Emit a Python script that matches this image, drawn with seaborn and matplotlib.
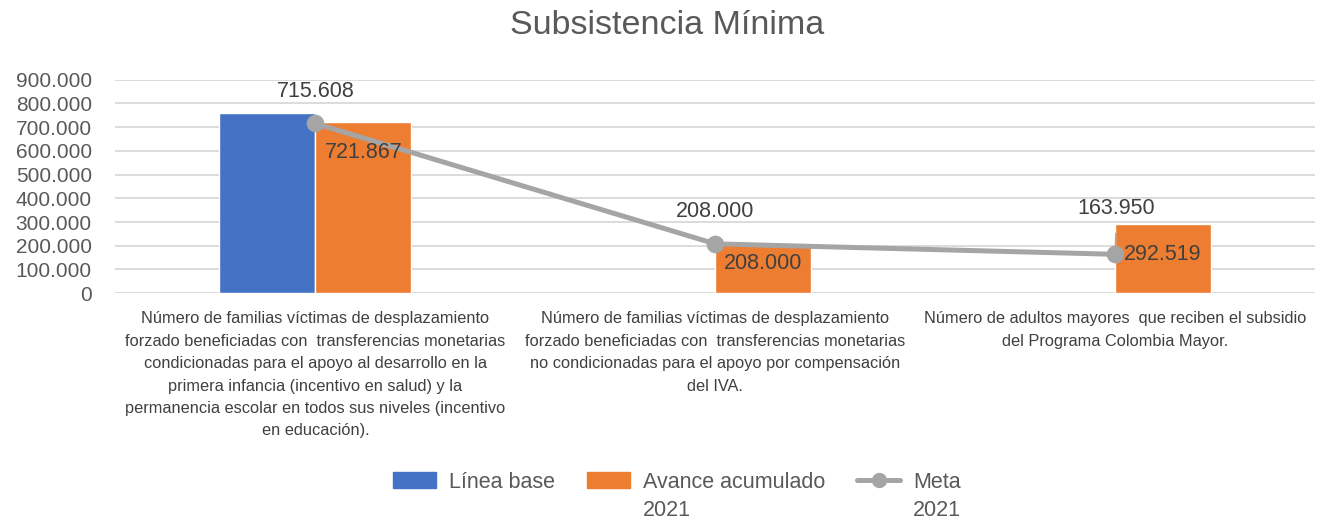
import pandas as pd
import matplotlib
matplotlib.use("Agg")
import matplotlib.pyplot as plt
from matplotlib.patches import Patch
from matplotlib.lines import Line2D
import seaborn as sns

# data
categories = ["c1", "c2", "c3"]
tick_labels = [
    "Número de familias víctimas de desplazamiento\nforzado beneficiadas con  transferencias monetarias\n"
    "condicionadas para el apoyo al desarrollo en la\nprimera infancia (incentivo en salud) y la\n"
    "permanencia escolar en todos sus niveles (incentivo\nen educación).",
    "Número de familias víctimas de desplazamiento\nforzado beneficiadas con  transferencias monetarias\n"
    "no condicionadas para el apoyo por compensación\ndel IVA.",
    "Número de adultos mayores  que reciben el subsidio\ndel Programa Colombia Mayor.",
]
linea_base = [760000, None, None]
avance_2021 = [721867, 208000, 292519]
meta_2021 = [715608, 208000, 163950]
y_ticks = [0, 100000, 200000, 300000, 400000, 500000, 600000, 700000, 800000, 900000]

series_names = ["Línea base", "Avance acumulado\n2021"]
legend_labels = ["Línea base", "Avance acumulado", "Meta"]
legend_second = [None, "2021", "2021"]
colors = ["#4472c4", "#ed7d31"]
line_color = "#a5a5a5"
text_color = "#595959"
label_color = "#404040"


def fmt(v):
    return f"{v:,.0f}".replace(",", ".")


df = pd.DataFrame({
    "cat": categories * 2,
    "serie": [series_names[0]] * 3 + [series_names[1]] * 3,
    "valor": linea_base + avance_2021,
})

sns.set_style("white")
plt.rcParams["font.family"] = ["Liberation Sans", "DejaVu Sans"]

fig = plt.figure(figsize=(13.27, 5.18), dpi=100)
ax = fig.add_axes([0.087, 0.434, 0.904, 0.412])

sns.barplot(data=df, x="cat", y="valor", hue="serie", order=categories,
            hue_order=series_names, palette=colors, width=0.48, dodge=True,
            saturation=1, errorbar=None, legend=False, ax=ax)
sns.pointplot(x=categories, y=meta_2021, order=categories, color=line_color,
              markers="o", markersize=10, linewidth=3.6, ax=ax)

ax.set_ylim(0, 900000)
ax.set_xlim(-0.5, 2.5)
ax.set_yticks(y_ticks)
ax.set_yticklabels([fmt(v) for v in y_ticks], color=text_color, fontsize=15)
ax.set_xticks(range(len(categories)))
ax.set_xticklabels(tick_labels, fontsize=11.8, color=label_color, linespacing=1.62,
                   va="top")
ax.tick_params(axis="both", length=0)
ax.tick_params(axis="x", pad=13)
ax.tick_params(axis="y", pad=17)
ax.set_xlabel("")
ax.set_ylabel("")
ax.yaxis.grid(True, color="#d9d9d9", linewidth=1.3)
ax.set_axisbelow(True)
sns.despine(ax=ax, left=True, bottom=True)

# labels on the orange bars
orange_bars = ax.containers[1]
pads = [-22, -14, -22]
for rect, v, p in zip(orange_bars, avance_2021, pads):
    ax.annotate(fmt(v), (rect.get_x() + rect.get_width() / 2, v),
                xytext=(0, p), textcoords="offset points", ha="center",
                va="center", fontsize=15.5, color=label_color)

# labels on the meta line
for i, v in enumerate(meta_2021):
    if i == 2:
        ax.annotate(fmt(v), (i, v), xytext=(1, 33), textcoords="offset points",
                    ha="center", va="center", fontsize=15.5, color=label_color,
                    arrowprops=dict(arrowstyle="-", color=line_color, lw=1,
                                    shrinkA=8, shrinkB=5))
    else:
        ax.annotate(fmt(v), (i, v), xytext=(0, 23), textcoords="offset points",
                    ha="center", va="center", fontsize=15.5, color=label_color)

fig.text(0.503, 1 - 26 / 518, "Subsistencia Mínima", ha="center", va="center",
         fontsize=24.5, color=text_color)

handles = [
    Patch(color=colors[0]),
    Patch(color=colors[1]),
    Line2D([], [], color=line_color, linewidth=3.6, marker="o", markersize=10),
]
leg = fig.legend(handles, legend_labels, loc="center",
                 bbox_to_anchor=(0.51, 1 - 482 / 518), ncol=3, frameon=False,
                 fontsize=15.5, labelcolor=text_color, handlelength=2.0,
                 handleheight=0.7, columnspacing=1.5, handletextpad=0.6)

# second line of the legend labels
fig.canvas.draw()
inv = fig.transFigure.inverted()
for txt, extra in zip(leg.get_texts(), legend_second):
    if extra:
        bb = txt.get_window_extent()
        x0 = inv.transform((bb.x0, bb.y0))[0]
        fig.text(x0, 1 - 510 / 518, extra, ha="left", va="center",
                 fontsize=15.5, color=text_color)

fig.savefig("out.png", dpi=100)
